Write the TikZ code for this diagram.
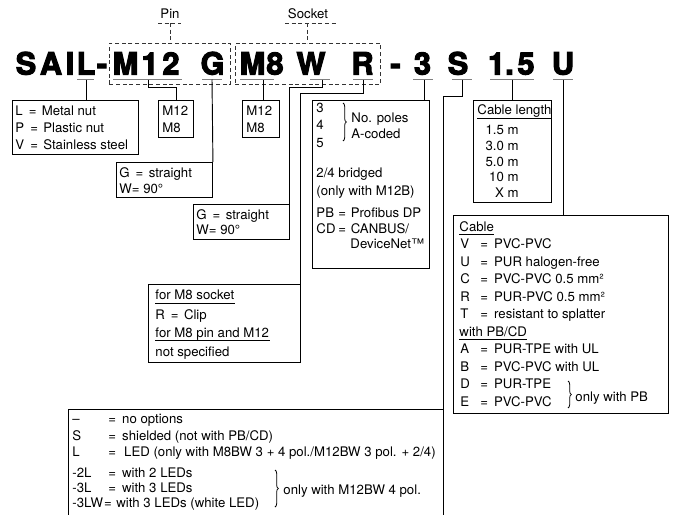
\documentclass[tikz,border=0pt]{standalone}
\usepackage{fontspec}
\setmainfont{TeX Gyre Heros}
\newfontfamily\codefont{TeX Gyre Heros}[BoldFeatures={FakeBold=3.5}]
\usetikzlibrary{decorations.pathreplacing}
\newcommand\eqsgn{\hspace{4.5pt}=\hspace{4pt}}

\begin{document}
\begin{tikzpicture}[
  x=0.75pt, y=-0.75pt,
  line width=0.7pt,
  every node/.style={font=\fontsize{9.9}{12}\selectfont, inner sep=0pt},
  code/.style={anchor=base, font=\codefont\bfseries\fontsize{23}{24}\selectfont},
  lbl/.style={anchor=base west},
  box/.style 2 args={draw, anchor=north west, minimum width=#1*0.75pt, minimum height=#2*0.75pt},
  grp/.style={draw=black!80, dash pattern=on 3pt off 2pt},
  groupbox/.style 2 args={box={#1}{#2}, grp},
  uline/.style={draw=black!50, line width=1.4pt},
  brc/.style={decorate, decoration={brace, amplitude=2.5pt}, line width=0.6pt}
]
  \useasboundingbox (0,0) rectangle (673,514);

  % type code
  \foreach \ch/\x [count=\i] in {S/26, A/51, I/70, L/86, -/102, M/125.5, 1/150, 2/171,
      G/212.5, M/252.5, 8/275, W/311, R/362.5, -/395.5, 3/422.5, S/458, 1/496.5,
      ./509.5, 5/526, U/563}
    \node[code] (ch\i) at (\x,74.5) {\ch};

  \foreach \a/\b in {77/94, 113/182, 202/222, 240/274, 310/330, 353/373, 413/433,
      452/472, 490/534, 553/573}
    \draw[uline] (\a,79.5) -- (\b,79.5);

  \coordinate (uL) at (86,79.5);
  \coordinate (uM12) at (148,79.5);
  \coordinate (uG) at (212,79.5);
  \coordinate (uM8) at (263,79.5);
  \coordinate (uW) at (322,79.5);
  \coordinate (uR) at (363,79.5);
  \coordinate (u3) at (424,79.5);
  \coordinate (uS) at (462,79.5);
  \coordinate (u15) at (512,79.5);
  \coordinate (uU) at (563,79.5);

  % pin / socket groups
  \node[groupbox={121}{41}] (pinbox) at (109,43) {};
  \node[groupbox={145}{41}] (sockbox) at (235,43) {};
  \node[anchor=base] (pinlbl) at (170,18) {Pin};
  \node[anchor=base] (socklbl) at (308,18) {Socket};
  \coordinate (pintop) at (170,23);
  \coordinate (socktop) at (307.5,23);
  \draw[grp] (158,23) -- (181,23);
  \draw[grp] (pintop) -- (pintop |- pinbox.north);
  \draw[grp] (285,23) -- (338,23);
  \draw[grp] (socktop) -- (socktop |- sockbox.north);

  % boxes
  \node[box={126}{54}] (nut) at (12,100) {};
  \node[box={35}{37}] (pinsize) at (158,100) {};
  \node[box={37}{37}] (socksize) at (242,100) {};
  \node[box={96}{35}] (pinangle) at (116,162) {};
  \node[box={96}{35}] (sockangle) at (193,204) {};
  \node[box={117}{168}] (polebox) at (312,100) {};
  \node[box={152}{78}] (clipbox) at (148,284) {};
  \node[box={375}{125}] (optbox) at (68,409) {};
  \node[box={78}{102}] (lenbox) at (473,100) {};
  \node[box={215}{198}] (cablebox) at (453,215) {};

  % connectors
  \draw (uL) -- (uL |- nut.north);
  \draw (uM12) -- ++(0,8) -| (pinsize.north);
  \draw (uG) -- (pinangle.north east);
  \draw (uM8) -- (uM8 |- socksize.north);
  \draw (uW) -- ++(0,8) -| (sockangle.north east);
  \draw (uR) -- ++(0,14) -| (clipbox.north east);
  \draw (u3) -- (u3 |- polebox.north);
  \draw (uS) -- ++(0,17) -| (optbox.north east);
  \draw (u15) -- (u15 |- lenbox.north);
  \draw (uU) -- (uU |- cablebox.north);

  % nut
  \node[lbl] (nutL) at (15,115) {L\eqsgn Metal nut};
  \node[lbl] (nutP) at (15,132) {P\eqsgn Plastic nut};
  \node[lbl] (nutV) at (15,149) {V\eqsgn Stainless steel};

  % sizes
  \node[lbl] (pinM12) at (162,115) {M12};
  \node[lbl] (pinM8) at (162,132) {M8};
  \node[lbl] (sockM12) at (246,115) {M12};
  \node[lbl] (sockM8) at (246,132) {M8};

  % angles
  \node[lbl] (pinG) at (119,177) {G\eqsgn straight};
  \node[lbl] (pinW) at (119,193) {W= 90°};
  \node[lbl] (sockG) at (196,219) {G\eqsgn straight};
  \node[lbl] (sockW) at (196,234) {W= 90°};

  % poles
  \node[lbl] (p3) at (316,112) {3};
  \node[lbl] (p4) at (316,129) {4};
  \node[lbl] (p5) at (316,147) {5};
  \draw[brc] (343,103) -- (343,141);
  \node[lbl] (poles) at (351,122) {No. poles};
  \node[lbl] (acoded) at (351,138) {A-coded};
  \node[lbl] (bridged) at (316,177) {2/4 bridged};
  \node[lbl] (m12b) at (316,195) {(only with M12B)};
  \node[lbl] (pb) at (316,217) {PB};
  \node[lbl] (pbt) at (338,217) {=\hspace{3.5pt}Profibus DP};
  \node[lbl] (cd) at (316,233) {CD};
  \node[lbl] (cdt) at (338,233) {=\hspace{3.5pt}CANBUS/};
  \node[lbl] (dnet) at (350,248) {DeviceNet™};

  % clip
  \node[lbl] (sockhd) at (155,299) {for M8 socket};
  \draw ([yshift=-3pt]sockhd.base west) -- ([yshift=-3pt]sockhd.base east);
  \node[lbl] (clipR) at (155,319) {R\eqsgn Clip};
  \node[lbl] (pinhd) at (155,337) {for M8 pin and M12};
  \draw ([yshift=-2.5pt]pinhd.base west) -- ([yshift=-2.5pt]pinhd.base east);
  \node[lbl] (nospec) at (155,356) {not specified};

  % options
  \node[lbl] (oDash) at (72,423) {–};
  \node[lbl] (oDashT) at (108,423) {=\hspace{4.5pt}no options};
  \node[lbl] (oS) at (72,440) {S};
  \node[lbl] (oST) at (108,440) {=\hspace{4.5pt}shielded (not with PB/CD)};
  \node[lbl] (oL) at (72,456) {L};
  \node[lbl] (oLT) at (108,456) {=\hspace{6pt}LED (only with M8BW 3 + 4 pol./M12BW 3 pol. + 2/4)};
  \node[lbl] (o2L) at (72,477) {-2L};
  \node[lbl] (o2LT) at (108,477) {=\hspace{4.5pt}with 2 LEDs};
  \node[lbl] (o3L) at (72,492) {-3L};
  \node[lbl] (o3LT) at (108,492) {=\hspace{4.5pt}with 3 LEDs};
  \node[lbl] (o3LW) at (72,507) {-3LW};
  \node[lbl] (o3LWT) at (o3LW.base east) {=\hspace{3.5pt}with 3 LEDs (white LED)};
  \draw[brc] (275,470) -- (275,507);
  \node[lbl] (m12bw) at (283,494) {only with M12BW 4 pol.};

  % cable length
  \node[lbl] (lenhd) at (477,114) {Cable length};
  \draw ([yshift=-3pt]lenhd.base west) -- ([yshift=-3pt]lenhd.base east);
  \foreach \t/\y [count=\i] in {1.5 m/134, 3.0 m/150, 5.0 m/166, 10 m/181, X m/197}
    \node[anchor=base east] (len\i) at (519,\y) {\t};

  % cable
  \node[lbl] (cabhd) at (459,231) {Cable};
  \draw ([yshift=-2.5pt]cabhd.base west) -- ([yshift=-2.5pt]cabhd.base east);
  \foreach \c/\t/\y [count=\i] in {V/PVC-PVC/248.5, U/PUR halogen-free/266,
      C/PVC-PVC 0.5 mm²/283.5, R/PUR-PVC 0.5 mm²/301, T/resistant to splatter/318.5} {
    \node[lbl] (cab\i) at (460,\y) {\c};
    \node[lbl] (cabt\i) at (480,\y) {=\hspace{4.5pt}\t};
  }
  \node[lbl] (pbhd) at (459,336) {with PB/CD};
  \draw ([yshift=-2.5pt]pbhd.base west) -- ([yshift=-2.5pt]pbhd.base east);
  \foreach \c/\t/\y [count=\i] in {A/PUR-TPE with UL/353.5, B/PVC-PVC with UL/371,
      D/PUR-TPE/388.5, E/PVC-PVC/406} {
    \node[lbl] (pbc\i) at (460,\y) {\c};
    \node[lbl] (pbt\i) at (480,\y) {=\hspace{4.5pt}\t};
  }
  \draw[brc] (568,381) -- (568,408);
  \node[lbl] (onlypb) at (575,401) {only with PB};
\end{tikzpicture}
\end{document}
